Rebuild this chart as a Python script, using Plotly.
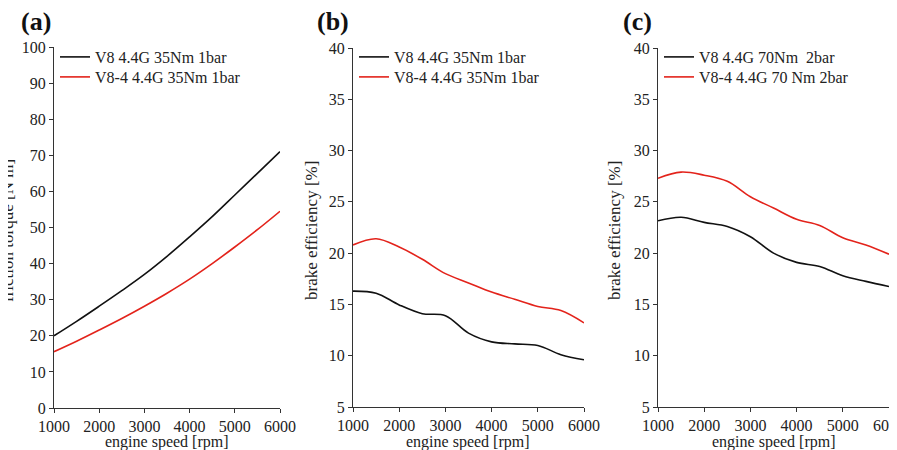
import plotly.graph_objects as go

rpm = [1000, 1500, 2000, 2500, 3000, 3500, 4000, 4500, 5000, 5500, 6000]

# (a) friction torque [N m]
fric_v8 = [20.0, 24.0, 28.2, 32.5, 37.0, 42.0, 47.4, 53.0, 59.0, 65.0, 71.0]
fric_v84 = [15.6, 18.5, 21.6, 24.8, 28.2, 31.8, 35.7, 40.0, 44.6, 49.4, 54.5]

# (b) brake efficiency [%], 35Nm 1bar
eff_b_v8 = [16.3, 16.1, 14.95, 14.1, 13.9, 12.2, 11.35, 11.15, 11.0, 10.1, 9.6]
eff_b_v84 = [20.8, 21.4, 20.6, 19.4, 18.0, 17.1, 16.2, 15.5, 14.8, 14.4, 13.2]

# (c) brake efficiency [%], 70Nm 2bar
eff_c_v8 = [23.15, 23.5, 23.0, 22.6, 21.6, 20.0, 19.1, 18.7, 17.8, 17.25, 16.75]
eff_c_v84 = [27.3, 27.9, 27.6, 27.0, 25.5, 24.4, 23.3, 22.7, 21.5, 20.8, 19.9]

names_ab = ["V8 4.4G 35Nm 1bar", "V8-4 4.4G 35Nm 1bar"]
names_c = ["V8 4.4G 70Nm  2bar", "V8-4 4.4G 70 Nm 2bar"]
panel_labels = ["(a)", "(b)", "(c)"]
ytitles = ["friction torque [N m]", "brake efficiency [%]", "brake efficiency [%]"]
xtitle = "engine speed [rpm]"
xticks = [1000, 2000, 3000, 4000, 5000, 6000]

BLACK = "#111111"
RED = "#e3231b"
FONT = "Liberation Serif"
OFF = 8  # page body margin
W, H = 897 - OFF + 16, 450 - OFF


def px(v):
    return (v - OFF) / W


def py(v):
    return 1 - (v - OFF) / H


xdom = [(px(54), px(280)), (px(353), px(584)), (px(658), px(889))]
ydom_a = (py(408), py(47))
ydom_bc = (py(407), py(48))

fig = go.Figure()

panels = [
    (fric_v8, fric_v84, names_ab, "x", "y"),
    (eff_b_v8, eff_b_v84, names_ab, "x2", "y2"),
    (eff_c_v8, eff_c_v84, names_c, "x3", "y3"),
]
legend_ids = []
for i, (s1, s2, nm, xa, ya) in enumerate(panels):
    for j, (s, col) in enumerate([(s1, BLACK), (s2, RED)]):
        k = 2 * i + j
        lg = "legend" if k == 0 else "legend" + str(k + 1)
        legend_ids.append((lg, i, j))
        fig.add_trace(go.Scatter(x=rpm, y=s, name=nm[j], mode="lines",
                                 line=dict(color=col, width=1.6, shape="spline"),
                                 xaxis=xa, yaxis=ya, legend=lg))

axis_common = dict(showline=True, linecolor="#333333", linewidth=1.2, ticks="outside", ticklen=4,
                   tickcolor="#333333", showgrid=False, zeroline=False, automargin=False,
                   tickfont=dict(family=FONT, size=16, color="#222222"))

layout = dict(width=W, height=H, margin=dict(l=0, r=0, t=0, b=0, autoexpand=False),
              plot_bgcolor="white", paper_bgcolor="white",
              font=dict(family=FONT, size=16, color="#222222"), showlegend=True)

yranges = [[0, 100], [5, 40], [5, 40]]
ydtick = [10, 5, 5]
for i in range(3):
    sfx = "" if i == 0 else str(i + 1)
    layout["xaxis" + sfx] = dict(axis_common, domain=list(xdom[i]), range=[1000, 6000], tickvals=xticks,
                                 anchor="y" + sfx, ticklabeloverflow="allow")
    layout["yaxis" + sfx] = dict(axis_common, domain=list(ydom_a if i == 0 else ydom_bc), range=yranges[i],
                                 dtick=ydtick[i], anchor="x" + sfx)

row_y = [57, 77]
for lg, i, j in legend_ids:
    layout[lg] = dict(x=xdom[i][0] + 1 / W, y=py(row_y[j]), xanchor="left", yanchor="middle",
                      bgcolor="rgba(0,0,0,0)", font=dict(family=FONT, size=16, color="#222222"),
                      itemwidth=30, borderwidth=0)

fig.update_layout(**layout)

label_x = [19, 315, 621]
ytitle_x = [7, 311, 614]
for i in range(3):
    fig.add_annotation(text="<b>" + panel_labels[i] + "</b>", x=px(label_x[i]), y=py(21), xref="paper",
                       yref="paper", xanchor="left", yanchor="middle", showarrow=False,
                       font=dict(family=FONT, size=26, color="#111111"))
    fig.add_annotation(text=ytitles[i], x=px(ytitle_x[i]), y=py(231), xref="paper", yref="paper",
                       xanchor="center", yanchor="middle", textangle=-90, showarrow=False,
                       font=dict(family=FONT, size=17, color="#222222"))
    fig.add_annotation(text=xtitle, x=(xdom[i][0] + xdom[i][1]) / 2, y=py(442), xref="paper", yref="paper",
                       xanchor="center", yanchor="middle", showarrow=False,
                       font=dict(family=FONT, size=16, color="#222222"))

fig.write_html("out.html")
